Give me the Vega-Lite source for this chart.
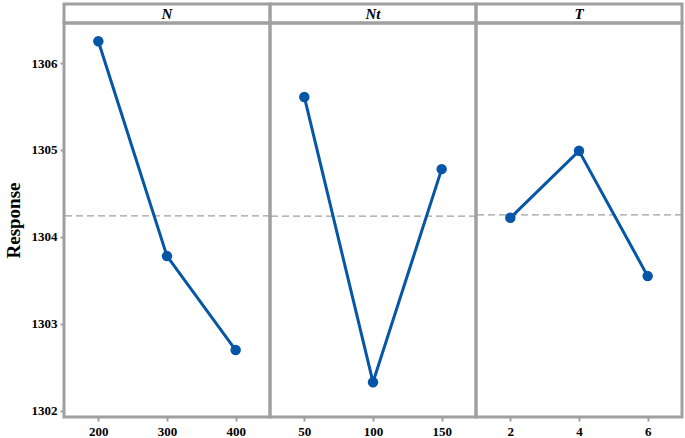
{
  "$schema": "https://vega.github.io/schema/vega-lite/v6.json",
  "padding": {"left": 2, "top": 2, "right": 2, "bottom": 2},
  "datasets": {
    "effects": [
      {"factor": "N", "level": 200, "response": 1306.25},
      {"factor": "N", "level": 300, "response": 1303.78},
      {"factor": "N", "level": 400, "response": 1302.70},
      {"factor": "Nt", "level": 50, "response": 1305.61},
      {"factor": "Nt", "level": 100, "response": 1302.33},
      {"factor": "Nt", "level": 150, "response": 1304.78},
      {"factor": "T", "level": 2, "response": 1304.22},
      {"factor": "T", "level": 4, "response": 1304.99},
      {"factor": "T", "level": 6, "response": 1303.55}
    ],
    "headers": [{"factor": "N"}, {"factor": "Nt"}, {"factor": "T"}]
  },
  "columns": 3,
  "spacing": 0,
  "bounds": "flush",
  "concat": [
    {
      "data": {"name": "headers"},
      "transform": [{"filter": "datum.factor === 'N'"}],
      "width": 206, "height": 19,
      "mark": {"type": "text", "font": "Liberation Serif", "fontWeight": "bold", "fontStyle": "italic", "fontSize": 15, "color": "#000"},
      "encoding": {
        "x": {"field": "factor", "type": "nominal", "axis": null},
        "y": {"field": "factor", "type": "nominal", "axis": null},
        "text": {"field": "factor"}
      }
    },
    {
      "data": {"name": "headers"},
      "transform": [{"filter": "datum.factor === 'Nt'"}],
      "width": 206, "height": 19,
      "mark": {"type": "text", "font": "Liberation Serif", "fontWeight": "bold", "fontStyle": "italic", "fontSize": 15, "color": "#000"},
      "encoding": {
        "x": {"field": "factor", "type": "nominal", "axis": null},
        "y": {"field": "factor", "type": "nominal", "axis": null},
        "text": {"field": "factor"}
      }
    },
    {
      "data": {"name": "headers"},
      "transform": [{"filter": "datum.factor === 'T'"}],
      "width": 206, "height": 19,
      "mark": {"type": "text", "font": "Liberation Serif", "fontWeight": "bold", "fontStyle": "italic", "fontSize": 15, "color": "#000"},
      "encoding": {
        "x": {"field": "factor", "type": "nominal", "axis": null},
        "y": {"field": "factor", "type": "nominal", "axis": null},
        "text": {"field": "factor"}
      }
    },
    {
      "data": {"name": "effects"},
      "transform": [{"filter": "datum.factor === 'N'"}],
      "width": 206, "height": 394,
      "encoding": {
        "x": {"field": "level", "type": "ordinal", "scale": {"type": "point", "padding": 0.5}, "axis": {"title": null}}
      },
      "layer": [
        {"mark": {"type": "rule", "color": "#a0a0a0", "strokeDash": [7, 4], "strokeWidth": 1.3},
         "encoding": {"x": null, "y": {"aggregate": "mean", "field": "response", "type": "quantitative", "scale": {"domain": [1301.93, 1306.46], "nice": false, "zero": false}}}},
        {"mark": {"type": "line", "color": "#0656a8", "strokeWidth": 3},
         "encoding": {"y": {"field": "response", "type": "quantitative", "scale": {"domain": [1301.93, 1306.46], "nice": false, "zero": false}, "axis": {"title": "Response", "values": [1302, 1303, 1304, 1305, 1306], "format": "d"}}}},
        {"mark": {"type": "point", "filled": true, "opacity": 1, "color": "#0656a8", "size": 110},
         "encoding": {"y": {"field": "response", "type": "quantitative"}}}
      ]
    },
    {
      "data": {"name": "effects"},
      "transform": [{"filter": "datum.factor === 'Nt'"}],
      "width": 206, "height": 394,
      "encoding": {
        "x": {"field": "level", "type": "ordinal", "scale": {"type": "point", "padding": 0.5}, "axis": {"title": null}}
      },
      "layer": [
        {"mark": {"type": "rule", "color": "#a0a0a0", "strokeDash": [7, 4], "strokeWidth": 1.3},
         "encoding": {"x": null, "y": {"aggregate": "mean", "field": "response", "type": "quantitative", "scale": {"domain": [1301.93, 1306.46], "nice": false, "zero": false}, "axis": null}}},
        {"mark": {"type": "line", "color": "#0656a8", "strokeWidth": 3},
         "encoding": {"y": {"field": "response", "type": "quantitative", "scale": {"domain": [1301.93, 1306.46], "nice": false, "zero": false}, "axis": null}}},
        {"mark": {"type": "point", "filled": true, "opacity": 1, "color": "#0656a8", "size": 110},
         "encoding": {"y": {"field": "response", "type": "quantitative", "axis": null}}}
      ]
    },
    {
      "data": {"name": "effects"},
      "transform": [{"filter": "datum.factor === 'T'"}],
      "width": 206, "height": 394,
      "encoding": {
        "x": {"field": "level", "type": "ordinal", "scale": {"type": "point", "padding": 0.5}, "axis": {"title": null}}
      },
      "layer": [
        {"mark": {"type": "rule", "color": "#a0a0a0", "strokeDash": [7, 4], "strokeWidth": 1.3},
         "encoding": {"x": null, "y": {"aggregate": "mean", "field": "response", "type": "quantitative", "scale": {"domain": [1301.93, 1306.46], "nice": false, "zero": false}, "axis": null}}},
        {"mark": {"type": "line", "color": "#0656a8", "strokeWidth": 3},
         "encoding": {"y": {"field": "response", "type": "quantitative", "scale": {"domain": [1301.93, 1306.46], "nice": false, "zero": false}, "axis": null}}},
        {"mark": {"type": "point", "filled": true, "opacity": 1, "color": "#0656a8", "size": 110},
         "encoding": {"y": {"field": "response", "type": "quantitative", "axis": null}}}
      ]
    }
  ],
  "config": {
    "view": {"stroke": "#a0a0a0", "strokeWidth": 3},
    "axis": {
      "domain": false,
      "grid": false,
      "tickColor": "#a0a0a0",
      "tickWidth": 2,
      "tickSize": 4,
      "labelFont": "Liberation Serif",
      "labelFontWeight": "bold",
      "labelFontSize": 13,
      "labelColor": "#000",
      "labelPadding": 3,
      "titleFont": "Liberation Serif",
      "titleFontWeight": "bold",
      "titleFontSize": 19,
      "titleColor": "#000"
    },
    "axisX": {"labelAngle": 0, "labelPadding": 4},
    "axisY": {"titlePadding": 8}
  }
}
